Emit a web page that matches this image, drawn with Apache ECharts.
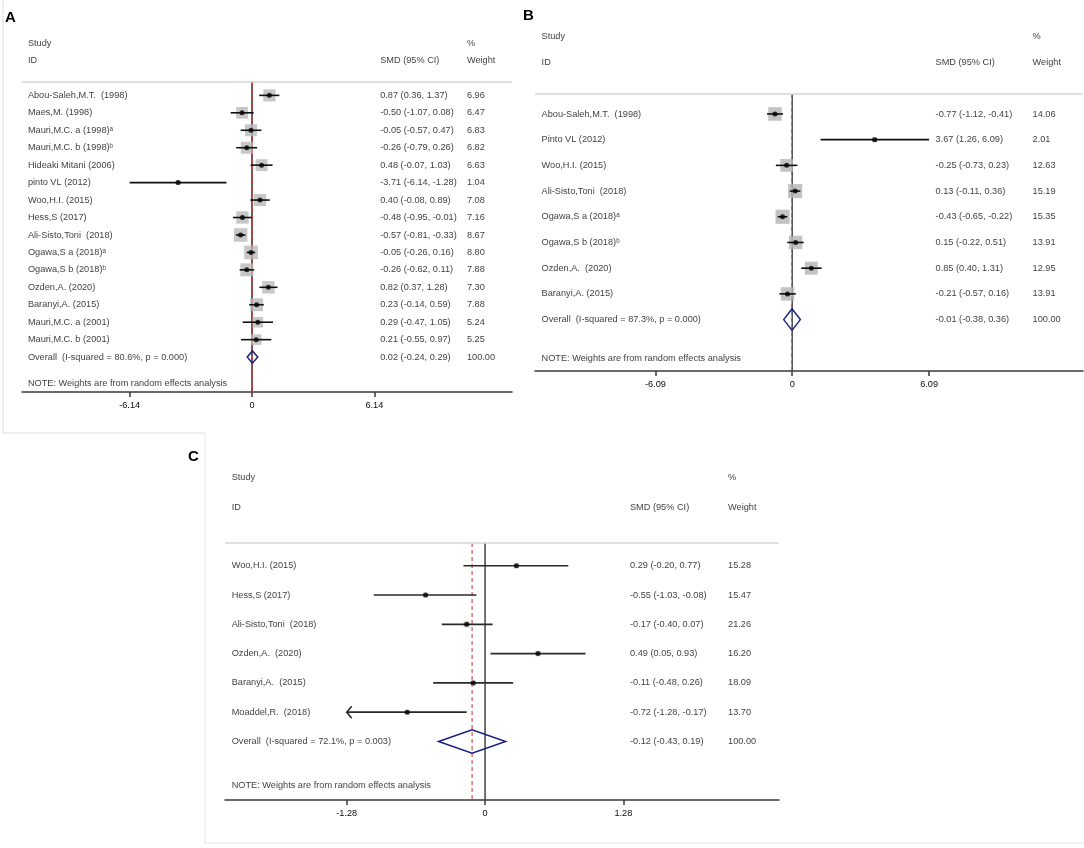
<!DOCTYPE html>
<html>
<head>
<meta charset="utf-8">
<script src="https://cdn.jsdelivr.net/npm/echarts@6/dist/echarts.min.js"></script>
<style>
html, body { margin: 0; background: #fff; }
#main { width: 1084px; height: 848px; }
</style>
</head>
<body>
<div id="main"></div>
<script>
// panel A
var idsA = ['Abou-Saleh,M.T.  (1998)', 'Maes,M. (1998)', 'Mauri,M.C. a (1998)\u1d43', 'Mauri,M.C. b (1998)\u1d47',
  'Hideaki Mitani (2006)', 'pinto VL (2012)', 'Woo,H.I. (2015)', 'Hess,S (2017)', 'Ali-Sisto,Toni  (2018)',
  'Ogawa,S a (2018)\u1d43', 'Ogawa,S b (2018)\u1d47', 'Ozden,A. (2020)', 'Baranyi,A. (2015)',
  'Mauri,M.C. a (2001)', 'Mauri,M.C. b (2001)'];
var smdA = [0.87, -0.50, -0.05, -0.26, 0.48, -3.71, 0.40, -0.48, -0.57, -0.05, -0.26, 0.82, 0.23, 0.29, 0.21];
var loA = [0.36, -1.07, -0.57, -0.79, -0.07, -6.14, -0.08, -0.95, -0.81, -0.26, -0.62, 0.37, -0.14, -0.47, -0.55];
var hiA = [1.37, 0.08, 0.47, 0.26, 1.03, -1.28, 0.89, -0.01, -0.33, 0.16, 0.11, 1.28, 0.59, 1.05, 0.97];
var weightA = [6.96, 6.47, 6.83, 6.82, 6.63, 1.04, 7.08, 7.16, 8.67, 8.80, 7.88, 7.30, 7.88, 5.24, 5.25];
var overallA = [0.02, -0.24, 0.29];
var isqA = 80.6, pA = '0.000';
var ticksA = [-6.14, 0, 6.14];

// panel B
var idsB = ['Abou-Saleh,M.T.  (1998)', 'Pinto VL (2012)', 'Woo,H.I. (2015)', 'Ali-Sisto,Toni  (2018)',
  'Ogawa,S a (2018)\u1d43', 'Ogawa,S b (2018)\u1d47', 'Ozden,A.  (2020)', 'Baranyi,A. (2015)'];
var smdB = [-0.77, 3.67, -0.25, 0.13, -0.43, 0.15, 0.85, -0.21];
var loB = [-1.12, 1.26, -0.73, -0.11, -0.65, -0.22, 0.40, -0.57];
var hiB = [-0.41, 6.09, 0.23, 0.36, -0.22, 0.51, 1.31, 0.16];
var weightB = [14.06, 2.01, 12.63, 15.19, 15.35, 13.91, 12.95, 13.91];
var overallB = [-0.01, -0.38, 0.36];
var isqB = 87.3, pB = '0.000';
var ticksB = [-6.09, 0, 6.09];

// panel C
var idsC = ['Woo,H.I. (2015)', 'Hess,S (2017)', 'Ali-Sisto,Toni  (2018)', 'Ozden,A.  (2020)',
  'Baranyi,A.  (2015)', 'Moaddel,R.  (2018)'];
var smdC = [0.29, -0.55, -0.17, 0.49, -0.11, -0.72];
var loC = [-0.20, -1.03, -0.40, 0.05, -0.48, -1.28];
var hiC = [0.77, -0.08, 0.07, 0.93, 0.26, -0.17];
var weightC = [15.28, 15.47, 21.26, 16.20, 18.09, 13.70];
var clippedC = [0, 0, 0, 0, 0, 1];
var overallC = [-0.12, -0.43, 0.19];
var isqC = 72.1, pC = '0.003';
var ticksC = [-1.28, 0, 1.28];

var FONT = 'Liberation Sans, Arial, sans-serif';
var TEXT = '#0a0a0a';
var COL_ID = 0.012, COL_SMD = 0.731, COL_W = 0.908;

var panels = [
  { ids: idsA, smd: smdA, lo: loA, hi: hiA, w: weightA, clip: null, ov: overallA, isq: isqA, p: pA, ticks: ticksA,
    grid: { left: 22, top: 34.3, width: 490, height: 357.7 }, box: 4.6, boxColor: '#b9b9b9',
    dh: 0.35, refOnTop: true, nullColor: '#2b2b2b', ciColor: '#111' },
  { ids: idsB, smd: smdB, lo: loB, hi: hiB, w: weightB, clip: null, ov: overallB, isq: isqB, p: pB, ticks: ticksB,
    grid: { left: 535, top: 24, width: 548, height: 347 }, box: 3.6, boxColor: '#b4b4b4',
    dh: 0.42, refOnTop: false, nullColor: '#555', ciColor: '#111' },
  { ids: idsC, smd: smdC, lo: loC, hi: hiC, w: weightC, clip: clippedC, ov: overallC, isq: isqC, p: pC, ticks: ticksC,
    grid: { left: 225, top: 463.3, width: 554, height: 336.7 }, box: 1.4, boxColor: '#d2d2d2',
    dh: 0.4, refOnTop: true, nullColor: '#444', ciColor: '#2a2a2a' }
];

function ci(e, l, h) {
  return e.toFixed(2) + ' (' + l.toFixed(2) + ', ' + h.toFixed(2) + ')';
}

var grids = [], xAxes = [], yAxes = [], series = [];

panels.forEach(function (p, k) {
  var n = p.ids.length;
  var T = p.ticks[2];
  var xi = 2 * k, ti = 2 * k + 1;
  var bottom = n + 2, sep = -0.78;
  grids.push(p.grid);
  xAxes.push({
    type: 'value', gridIndex: k, min: -1.88 * T, max: 2.125 * T, position: 'bottom',
    axisLine: { show: true, onZero: false, lineStyle: { color: '#3a3a3a', width: 1.5 } },
    axisTick: { show: true, customValues: p.ticks, length: 5, lineStyle: { color: '#3a3a3a', width: 1.5 } },
    axisLabel: { customValues: p.ticks, margin: 9, fontSize: 9.2, color: TEXT, fontFamily: FONT,
      formatter: function (v) { return String(v); } },
    splitLine: { show: false }
  });
  xAxes.push({ type: 'value', gridIndex: k, min: 0, max: 1, show: false });
  yAxes.push({ type: 'value', gridIndex: k, inverse: true, min: -3.5, max: bottom, show: false });

  // text columns
  var txt = [
    [COL_ID, -3, 'Study'], [COL_W, -3, '%'],
    [COL_ID, -2, 'ID'], [COL_SMD, -2, 'SMD (95% CI)'], [COL_W, -2, 'Weight']
  ];
  p.ids.forEach(function (id, i) {
    txt.push([COL_ID, i, id]);
    txt.push([COL_SMD, i, ci(p.smd[i], p.lo[i], p.hi[i])]);
    txt.push([COL_W, i, p.w[i].toFixed(2)]);
  });
  txt.push([COL_ID, n, 'Overall  (I-squared = ' + p.isq.toFixed(1) + '%, p = ' + p.p + ')']);
  txt.push([COL_SMD, n, ci(p.ov[0], p.ov[1], p.ov[2])]);
  txt.push([COL_W, n, '100.00']);
  txt.push([COL_ID, n + 1.5, 'NOTE: Weights are from random effects analysis']);

  series.push({
    type: 'scatter', xAxisIndex: ti, yAxisIndex: k, silent: true, symbolSize: 0, data: txt,
    label: { show: true, position: 'right', distance: 0, fontSize: 9.2, color: TEXT, fontFamily: FONT,
      formatter: function (q) { return q.data[2]; } },
    markLine: { silent: true, symbol: 'none', label: { show: false },
      lineStyle: { color: '#d6d6d6', width: 1.5, type: 'solid' }, data: [{ yAxis: sep }] }
  });

  // null line and overall dashed line
  series.push({
    type: 'line', xAxisIndex: xi, yAxisIndex: k, silent: true, symbol: 'none', z: 3,
    data: [[0, sep], [0, bottom]], lineStyle: { color: p.nullColor, width: 1.5 }
  });
  series.push({
    type: 'line', xAxisIndex: xi, yAxisIndex: k, silent: true, symbol: 'none', z: p.refOnTop ? 4 : 2,
    data: [[p.ov[0], sep], [p.ov[0], bottom]], lineStyle: { color: '#d04040', width: 1.1, type: [4, 3] }
  });

  // weight boxes
  series.push({
    type: 'scatter', xAxisIndex: xi, yAxisIndex: k, silent: true, symbol: 'rect', z: 5,
    data: p.smd.map(function (v, i) { return [v, i, p.w[i]]; }),
    symbolSize: function (val) { return p.box * Math.sqrt(val[2]); },
    itemStyle: { color: p.boxColor }
  });

  // confidence intervals
  series.push({
    type: 'custom', xAxisIndex: xi, yAxisIndex: k, silent: true, z: 6, clip: false,
    data: p.lo.map(function (l, i) { return [l, p.hi[i], i, p.clip ? p.clip[i] : 0]; }),
    encode: { x: [0, 1], y: 2 },
    renderItem: function (params, api) {
      var a = api.coord([api.value(0), api.value(2)]);
      var b = api.coord([api.value(1), api.value(2)]);
      var style = { stroke: p.ciColor, lineWidth: 1.6, fill: null };
      var kids = [{ type: 'line', shape: { x1: a[0], y1: a[1], x2: b[0], y2: b[1] }, style: style }];
      if (api.value(3)) {
        kids.push({ type: 'polyline', shape: { points: [[a[0] + 5, a[1] - 6], [a[0], a[1]], [a[0] + 5, a[1] + 6]] },
          style: style });
      }
      return { type: 'group', children: kids };
    }
  });

  // point estimates
  series.push({
    type: 'scatter', xAxisIndex: xi, yAxisIndex: k, silent: true, symbol: 'circle', symbolSize: 5, z: 7,
    data: p.smd.map(function (v, i) { return [v, i]; }), itemStyle: { color: '#000' }
  });

  // pooled diamond
  series.push({
    type: 'custom', xAxisIndex: xi, yAxisIndex: k, silent: true, z: 8, clip: false,
    data: [[p.ov[1], p.ov[0], p.ov[2], n]],
    encode: { x: [0, 2], y: 3 },
    renderItem: function (params, api) {
      var r = api.value(3);
      var pts = [
        api.coord([api.value(0), r]),
        api.coord([api.value(1), r - p.dh]),
        api.coord([api.value(2), r]),
        api.coord([api.value(1), r + p.dh])
      ];
      return { type: 'polygon', shape: { points: pts },
        style: { fill: 'rgba(255,255,255,0)', stroke: '#1b1f80', lineWidth: 1.5 } };
    }
  });
});

var chart = echarts.init(document.getElementById('main'), null, { renderer: 'canvas' });
chart.setOption({
  backgroundColor: '#fff',
  animation: false,
  grid: grids,
  xAxis: xAxes,
  yAxis: yAxes,
  series: series,
  graphic: [
    { type: 'text', left: 5, top: 10, style: { text: 'A', font: 'bold 15px ' + FONT, fill: '#000' } },
    { type: 'text', left: 523, top: 8, style: { text: 'B', font: 'bold 15px ' + FONT, fill: '#000' } },
    { type: 'text', left: 188, top: 449, style: { text: 'C', font: 'bold 15px ' + FONT, fill: '#000' } },
    { type: 'polyline', silent: true, shape: { points: [[3, 0], [3, 433], [205, 433]] },
      style: { stroke: '#eeeeee', lineWidth: 2, fill: null } },
    { type: 'polyline', silent: true, shape: { points: [[205, 433], [205, 843], [1084, 843]] },
      style: { stroke: '#f2f2f2', lineWidth: 2, fill: null } }
  ]
});
</script>
</body>
</html>
